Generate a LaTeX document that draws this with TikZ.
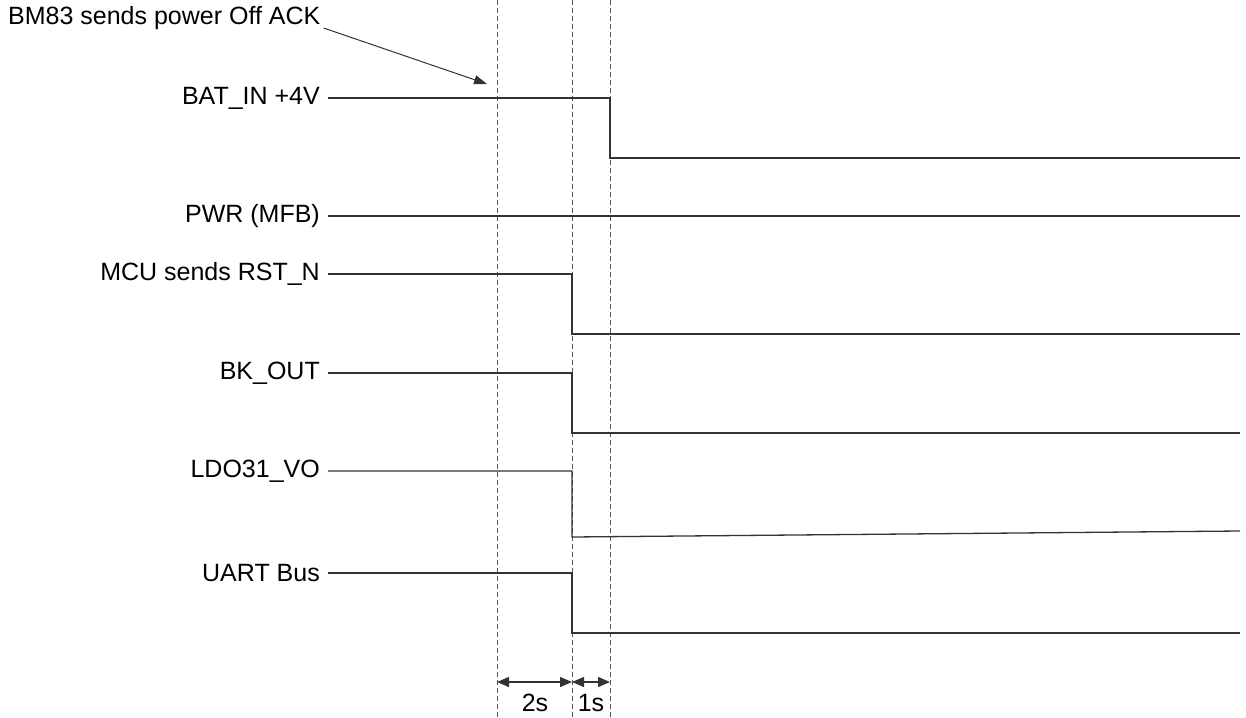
\documentclass[tikz,border=0pt]{standalone}
\usepackage{fontspec}
\setmainfont{Liberation Sans}
\usepackage{xcolor}
\usetikzlibrary{arrows.meta,positioning}
\definecolor{wire}{HTML}{333333}
\definecolor{guide}{HTML}{555555}

\begin{document}
\begin{tikzpicture}[x=1pt, y=-1pt,
    every node/.style={font=\fontsize{25}{30}\selectfont, text=black, inner sep=0pt},
    siglabel/.style={anchor=east},
    wave/.style={draw=wire, line width=1.3pt},
    guideline/.style={draw=guide, line width=0.8pt, dash pattern=on 5pt off 3pt},
    span/.style={draw=wire, line width=1.3pt, {Triangle[length=12pt,width=10pt]}-{Triangle[length=12pt,width=10pt]}}]
  \useasboundingbox (0,0) rectangle (1246,717);

  % time markers
  \coordinate (ack) at (497,0);
  \coordinate (rstT) at (572,0);
  \coordinate (batT) at (610,0);
  \draw[guideline] (ack) -- ++(0,717);
  \draw[guideline] (rstT) -- ++(0,717);
  \draw[guideline] (batT) -- ++(0,717);

  % signal names
  \node[siglabel] (bat) at (320,98) {BAT\_IN +4V};
  \node[siglabel] (pwr) at (320,216) {PWR (MFB)};
  \node[siglabel] (rst) at (320,274) {MCU sends RST\_N};
  \node[siglabel] (bk) at (320,373) {BK\_OUT};
  \node[siglabel] (ldo) at (320,471) {LDO31\_VO};
  \node[siglabel] (uart) at (320,573) {UART Bus};

  % waveforms
  \draw[wave] ([xshift=8pt]bat.east) -- (batT |- bat.east) -- ++(0,60) -- (1240,158);
  \draw[wave] ([xshift=8pt]pwr.east) -- (1240,216);
  \draw[wave] ([xshift=8pt]rst.east) -- (rstT |- rst.east) -- ++(0,60) -- (1240,334);
  \draw[wave] ([xshift=8pt]bk.east) -- (rstT |- bk.east) -- ++(0,60) -- (1240,433);
  \draw[wave] ([xshift=8pt]ldo.east) -- (rstT |- ldo.east) -- ++(0,66) -- (1240,531);
  \draw[wave] ([xshift=8pt]uart.east) -- (rstT |- uart.east) -- ++(0,60) -- (1240,633);

  % power off acknowledge
  \node[anchor=west] (acktext) at (8,18) {BM83 sends power Off ACK};
  \coordinate (ackpt) at (487,84);
  \draw[draw=wire, line width=1pt, -{Triangle[length=13pt,width=9pt]}] ([xshift=3pt,yshift=-10pt]acktext.east) -- (ackpt);

  % delays
  \coordinate (s0) at (ack |- 0,682);
  \coordinate (s1) at (rstT |- 0,682);
  \coordinate (s2) at (batT |- 0,682);
  \draw[span] (s0) -- (s1);
  \draw[span] (s1) -- (s2);
  \node (twos) at (535,703) {2s};
  \node (ones) at (591,703) {1s};
\end{tikzpicture}
\end{document}
